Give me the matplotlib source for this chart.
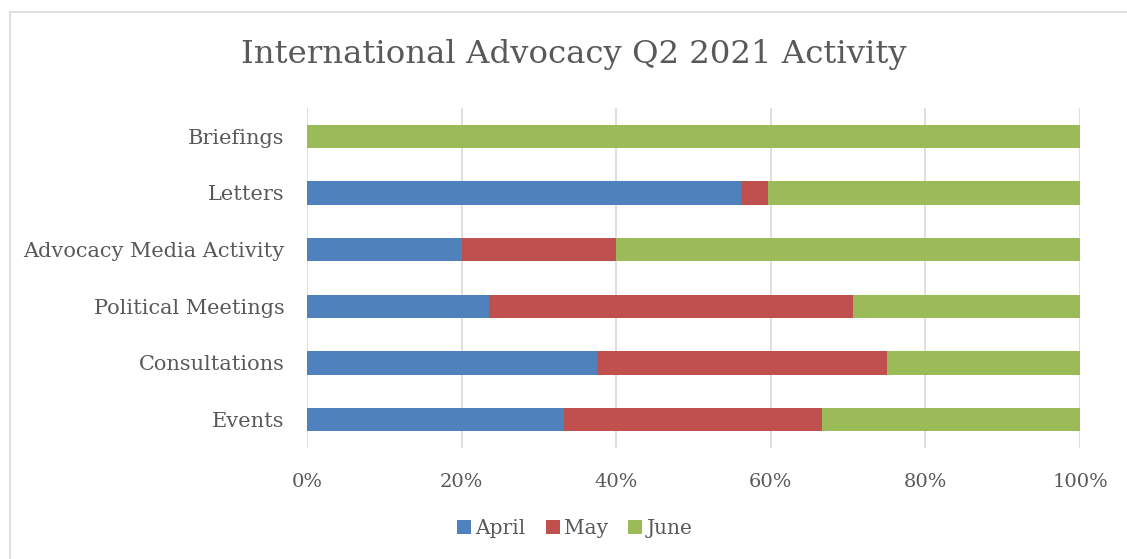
import matplotlib
matplotlib.use('Agg')

import numpy as np
import matplotlib.pyplot as plt
from matplotlib.patches import Rectangle
from matplotlib.ticker import PercentFormatter

# categories bottom -> top
categories = ['Events', 'Consultations', 'Political Meetings',
              'Advocacy Media Activity', 'Letters', 'Briefings']

# share of activity per month (%)
april = [33.3, 37.5, 23.5, 20.0, 56.1, 0.0]
may = [33.3, 37.5, 47.1, 20.0, 3.5, 0.0]
june = [33.4, 25.0, 29.4, 60.0, 40.4, 100.0]

series = ['April', 'May', 'June']
colors = ['#4F81BD', '#C0504D', '#9BBB59']
TEXT = '#595959'
FONT = 'DejaVu Serif'

plt.rcParams['font.family'] = FONT

fig = plt.figure(figsize=(11.27, 5.59), dpi=100)
ax = fig.add_axes([0.2724, 0.1986, 0.6859, 0.6082])

# light chart frame
fig.patches.append(Rectangle((10 / 1127, -0.1), 1.2, 1 - 12 / 559 + 0.1,
                             transform=fig.transFigure, fill=False,
                             edgecolor='#D9D9D9', linewidth=1.2))

y = np.arange(len(categories))
left = np.zeros(len(categories))
for name, vals, col in zip(series, [april, may, june], colors):
    ax.barh(y, vals, left=left, height=0.41, color=col, label=name, zorder=3)
    left += np.array(vals)

ax.set_xlim(0, 100)
ax.set_ylim(-0.5, len(categories) - 0.5)
ax.set_xticks(np.arange(0, 101, 20))
ax.xaxis.set_major_formatter(PercentFormatter(decimals=0))
ax.set_yticks(y)
ax.set_yticklabels(categories)

ax.grid(axis='x', color='#D9D9D9', linewidth=1.2, zorder=0)
for s in ax.spines.values():
    s.set_visible(False)
ax.tick_params(axis='both', length=0, colors=TEXT)
ax.tick_params(axis='x', pad=18, labelsize=14)
ax.tick_params(axis='y', pad=16, labelsize=15)

fig.text(0.509, 0.902, 'International Advocacy Q2 2021 Activity',
         ha='center', va='center', fontsize=23.3, color=TEXT)

leg = fig.legend(loc='center', bbox_to_anchor=(0.51, 0.055), ncol=3,
                 frameon=False, fontsize=14.5, handlelength=0.7, handleheight=0.7,
                 handletextpad=0.2, columnspacing=1.0)
for t in leg.get_texts():
    t.set_color(TEXT)

fig.savefig('out.png', dpi=100)
